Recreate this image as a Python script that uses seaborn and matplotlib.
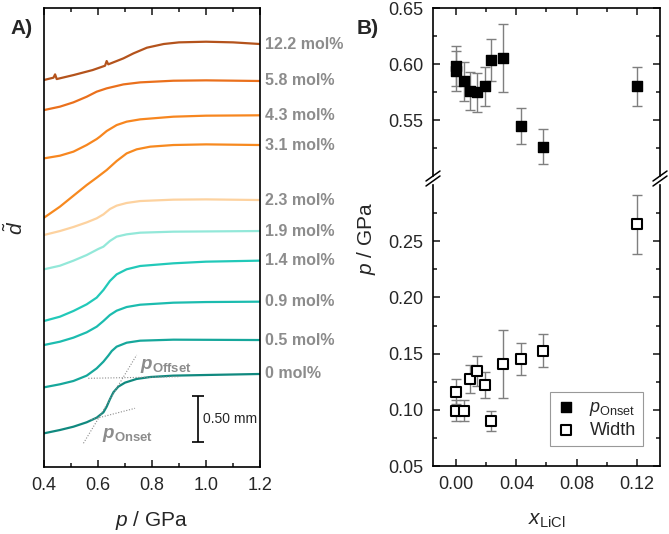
import numpy as np
import pandas as pd
import matplotlib
matplotlib.use("Agg")
import matplotlib.pyplot as plt
import seaborn as sns
from matplotlib.lines import Line2D
from matplotlib.ticker import MultipleLocator

# ---- A) piston displacement curves (d in mm, p in GPa)
labels = ["12.2 mol%", "5.8 mol%", "4.3 mol%", "3.1 mol%", "2.3 mol%",
          "1.9 mol%", "1.4 mol%", "0.9 mol%", "0.5 mol%", "0 mol%"]
colors = ["#b4531c", "#ea701c", "#f7861f", "#f7891f", "#fdd29f",
          "#93e8d9", "#22c9b9", "#1cbcaf", "#16a79b", "#10897f"]

p_122 = [0.40, 0.435, 0.441, 0.447, 0.51, 0.58, 0.626, 0.632, 0.638, 0.694, 0.731, 0.781, 0.843, 0.90, 1.00, 1.10, 1.20]
d_122 = [4.207, 4.232, 4.268, 4.217, 4.261, 4.315, 4.362, 4.413, 4.377, 4.442, 4.496, 4.558, 4.598, 4.616, 4.623, 4.616, 4.598]
p_58 = [0.40, 0.459, 0.509, 0.558, 0.595, 0.632, 0.694, 0.756, 0.879, 1.00, 1.20]
d_58 = [3.880, 3.917, 3.964, 4.025, 4.080, 4.116, 4.159, 4.181, 4.199, 4.203, 4.196]
p_43 = [0.40, 0.459, 0.509, 0.558, 0.595, 0.607, 0.632, 0.669, 0.706, 0.756, 0.879, 1.00, 1.20]
d_43 = [3.355, 3.384, 3.428, 3.500, 3.565, 3.591, 3.652, 3.717, 3.754, 3.779, 3.808, 3.819, 3.823]
p_31 = [0.40, 0.459, 0.509, 0.558, 0.595, 0.632, 0.669, 0.706, 0.743, 0.793, 0.879, 1.00, 1.20]
d_31 = [2.710, 2.830, 2.949, 3.065, 3.145, 3.228, 3.326, 3.409, 3.453, 3.482, 3.500, 3.507, 3.500]
p_23 = [0.40, 0.459, 0.509, 0.558, 0.595, 0.620, 0.644, 0.669, 0.706, 0.756, 0.879, 1.00, 1.20]
d_23 = [2.522, 2.565, 2.609, 2.659, 2.703, 2.746, 2.804, 2.841, 2.870, 2.891, 2.906, 2.909, 2.902]
p_19 = [0.40, 0.459, 0.509, 0.558, 0.601, 0.620, 0.644, 0.669, 0.706, 0.756, 0.879, 1.20]
d_19 = [2.149, 2.188, 2.243, 2.304, 2.370, 2.395, 2.457, 2.504, 2.529, 2.547, 2.558, 2.565]
p_14 = [0.40, 0.459, 0.509, 0.558, 0.595, 0.620, 0.644, 0.669, 0.706, 0.756, 0.879, 1.00, 1.20]
d_14 = [1.587, 1.634, 1.696, 1.768, 1.841, 1.924, 2.022, 2.094, 2.149, 2.185, 2.214, 2.232, 2.243]
p_09 = [0.40, 0.459, 0.509, 0.558, 0.595, 0.620, 0.644, 0.669, 0.706, 0.756, 0.879, 1.00, 1.20]
d_09 = [1.326, 1.362, 1.406, 1.464, 1.525, 1.587, 1.652, 1.699, 1.739, 1.764, 1.786, 1.793, 1.797]
p_05 = [0.40, 0.459, 0.509, 0.558, 0.595, 0.620, 0.638, 0.651, 0.669, 0.706, 0.756, 0.879, 1.20]
d_05 = [0.866, 0.899, 0.935, 0.993, 1.072, 1.145, 1.210, 1.261, 1.308, 1.351, 1.373, 1.384, 1.380]
p_00 = [0.40, 0.459, 0.509, 0.558, 0.595, 0.620, 0.632, 0.644, 0.657, 0.675, 0.70, 0.743, 0.793, 0.879, 1.00, 1.20]
d_00 = [0.366, 0.402, 0.438, 0.486, 0.536, 0.594, 0.656, 0.736, 0.812, 0.873, 0.917, 0.957, 0.978, 0.993, 1.000, 1.011]

# tangent construction on the 0 mol% curve
steep_p = [0.546, 0.743]
steep_d = [0.258, 1.217]
onset_tan_p = [0.575, 0.737]
onset_tan_d = [0.514, 0.638]
offset_tan_p = [0.564, 0.904]
offset_tan_d = [0.964, 0.982]

# ---- B) onset pressure and transition width vs x_LiCl
x_onset = [0.0, 0.0, 0.005, 0.009, 0.014, 0.019, 0.023, 0.031, 0.043, 0.058, 0.120]
onset = [0.5985, 0.5940, 0.5845, 0.5762, 0.5747, 0.5800, 0.6038, 0.6054, 0.5446, 0.5262, 0.5800]
onset_err = [0.018, 0.018, 0.0174, 0.017, 0.0173, 0.0174, 0.0186, 0.030, 0.0163, 0.0156, 0.0176]
x_width = [0.0, 0.0, 0.005, 0.009, 0.014, 0.019, 0.023, 0.031, 0.043, 0.058, 0.120]
width = [0.1163, 0.0990, 0.0990, 0.1274, 0.1348, 0.1220, 0.0902, 0.1408, 0.1453, 0.1527, 0.2649]
width_err = [0.011, 0.0093, 0.0093, 0.0128, 0.0134, 0.0119, 0.0087, 0.030, 0.0141, 0.015, 0.026]

sns.set_style("ticks")
plt.rcParams["font.family"] = ["Liberation Sans", "DejaVu Sans"]
plt.rcParams["mathtext.fontset"] = "custom"
plt.rcParams["mathtext.rm"] = "Liberation Sans"
plt.rcParams["mathtext.it"] = "Liberation Sans:italic"
plt.rcParams["mathtext.bf"] = "Liberation Sans:bold"
plt.rcParams["mathtext.bfit"] = "Liberation Sans:italic:bold"
plt.rcParams["axes.linewidth"] = 1.2

fig = plt.figure(figsize=(6.69, 5.34), dpi=100)
ax_a = fig.add_axes([0.0658, 0.1255, 0.3229, 0.8596])
ax_up = fig.add_axes([0.6472, 0.6704, 0.3393, 0.3146])
ax_lo = fig.add_axes([0.6472, 0.1273, 0.3393, 0.5262])

# ---- panel A
p_all = [p_122, p_58, p_43, p_31, p_23, p_19, p_14, p_09, p_05, p_00]
d_all = [d_122, d_58, d_43, d_31, d_23, d_19, d_14, d_09, d_05, d_00]
curves = pd.concat([pd.DataFrame({"p": p, "d": d, "sample": lab})
                    for lab, p, d in zip(labels, p_all, d_all)], ignore_index=True)
sns.lineplot(data=curves, x="p", y="d", hue="sample", hue_order=labels,
             palette=dict(zip(labels, colors)), sort=False, estimator=None,
             lw=1.6, legend=False, ax=ax_a)

for lab, d in zip(labels, d_all):
    ax_a.text(1.2185, d[-1], lab, color="#8c8c8c", fontweight="bold",
              fontsize=11.5, ha="left", va="center", clip_on=False)

for tp, td in [(steep_p, steep_d), (onset_tan_p, onset_tan_d), (offset_tan_p, offset_tan_d)]:
    ax_a.plot(tp, td, ls=(0, (1, 1.5)), color="#8c8c8c", lw=0.8)

ax_a.text(0.7556, 1.10, r"$\mathbfit{p}_{\mathbf{Offset}}$", color="#8c8c8c",
          fontsize=13.5, ha="left", va="center")
ax_a.text(0.615, 0.35, r"$\mathbfit{p}_{\mathbf{Onset}}$", color="#8c8c8c",
          fontsize=13.5, ha="left", va="center")

# 0.50 mm scale bar
ax_a.errorbar([0.9715], [0.52], yerr=[0.25], fmt="none", ecolor="black",
              elinewidth=1.2, capsize=4, capthick=1.2)
ax_a.text(0.989, 0.52, "0.50 mm", fontsize=10, ha="left", va="center")

ax_a.set_xlim(0.4, 1.2)
ax_a.set_ylim(0, 4.99)
ax_a.set_yticks([])
ax_a.xaxis.set_minor_locator(MultipleLocator(0.1))
ax_a.set_xticks([0.4, 0.6, 0.8, 1.0, 1.2], ["0.4", "0.6", "0.8", "1.0", "1.2"])
ax_a.tick_params(axis="x", which="both", direction="in", top=True, bottom=True,
                 labelsize=13, pad=7, width=1.2)
ax_a.tick_params(axis="x", which="major", length=5)
ax_a.tick_params(axis="x", which="minor", length=3)
ax_a.set_xlabel(r"$p$ / GPa", fontsize=15, labelpad=11)
ax_a.set_ylabel("")
for s in ax_a.spines.values():
    s.set_visible(True)
    s.set_color("black")

fig.text(15 / 669, 1 - 228 / 534, r"$\tilde{d}$", rotation=90, fontsize=15,
         ha="center", va="center")

# ---- panel B
ax_up.errorbar(x_onset, onset, yerr=onset_err, fmt="none", ecolor="#7f7f7f",
               elinewidth=1, capsize=3.5, capthick=1, zorder=2)
sns.scatterplot(x=x_onset, y=onset, marker="s", s=62, color="black",
                edgecolor="black", linewidth=1, zorder=3, ax=ax_up,
                label=r"$p_{\mathrm{Onset}}$")
ax_lo.errorbar(x_width, width, yerr=width_err, fmt="none", ecolor="#7f7f7f",
               elinewidth=1, capsize=3.5, capthick=1, zorder=2)
sns.scatterplot(x=x_width, y=width, marker="s", s=58, color="white",
                edgecolor="black", linewidth=1.5, zorder=3, ax=ax_lo,
                label="Width")

for ax in (ax_up, ax_lo):
    ax.set_xlim(-0.0153, 0.1353)
    ax.xaxis.set_major_locator(MultipleLocator(0.04))
    ax.xaxis.set_minor_locator(MultipleLocator(0.02))
    ax.tick_params(which="both", direction="in", left=True, right=True,
                   labelsize=13, width=1.2, pad=7)
    ax.tick_params(which="major", length=5)
    ax.tick_params(which="minor", length=3)
    for s in ax.spines.values():
        s.set_visible(True)
        s.set_color("black")

ax_up.set_ylim(0.50, 0.65)
ax_up.set_yticks([0.55, 0.60, 0.65], ["0.55", "0.60", "0.65"])
ax_up.set_yticks([0.525, 0.575, 0.625], minor=True)
ax_up.spines["bottom"].set_visible(False)
ax_up.tick_params(axis="x", which="both", bottom=False, labelbottom=False, top=True)

ax_lo.set_ylim(0.05, 0.30)
ax_lo.set_yticks([0.05, 0.10, 0.15, 0.20, 0.25], ["0.05", "0.10", "0.15", "0.20", "0.25"])
ax_lo.set_yticks([0.075, 0.125, 0.175, 0.225, 0.275], minor=True)
ax_lo.spines["top"].set_visible(False)
ax_lo.tick_params(axis="x", which="both", top=False, bottom=True)
ax_lo.set_xticks([0.0, 0.04, 0.08, 0.12], ["0.00", "0.04", "0.08", "0.12"])
ax_lo.set_xlabel(r"$x_{\mathrm{LiCl}}$", fontsize=15, labelpad=13)
ax_up.set_ylabel("")
ax_lo.set_ylabel("")

if ax_up.get_legend() is not None:
    ax_up.get_legend().remove()
h1, l1 = ax_up.get_legend_handles_labels()
h2, l2 = ax_lo.get_legend_handles_labels()
leg = ax_lo.legend(h1 + h2, l1 + l2, loc="lower right", bbox_to_anchor=(0.925, 0.071),
                   borderaxespad=0, frameon=True, fancybox=False, fontsize=13,
                   handlelength=1.0, handletextpad=0.8, labelspacing=0.2,
                   borderpad=0.4)
leg.get_frame().set_edgecolor("#808080")
leg.get_frame().set_linewidth(0.8)

fig.text(367 / 669, 1 - 238 / 534, r"$p$ / GPa", rotation=90, fontsize=15,
         ha="center", va="center")

# axis break marks
for xs in (433, 660):
    for dy in (0, 5):
        fig.add_artist(Line2D([(xs - 7) / 669, (xs + 7) / 669],
                              [1 - (186 - dy) / 534, 1 - (176 - dy) / 534],
                              transform=fig.transFigure, color="black", lw=1.1))

fig.text(10 / 669, 1 - 28 / 534, "A)", fontsize=15, fontweight="bold", va="center")
fig.text(357 / 669, 1 - 28 / 534, "B)", fontsize=15, fontweight="bold", va="center")

fig.savefig("out.png", dpi=100)
